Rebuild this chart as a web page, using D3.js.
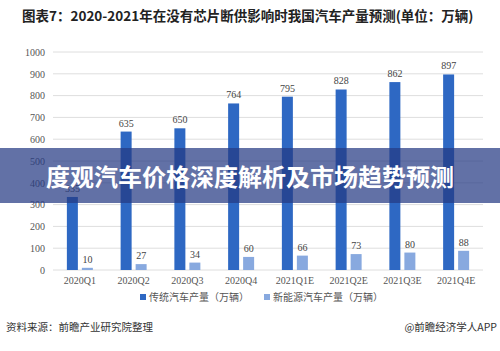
<!DOCTYPE html>
<html>
<head>
<meta charset="utf-8">
<script src="https://cdn.jsdelivr.net/npm/d3@7"></script>
<style>
  body { margin: 0; background: #fff; }
  svg { display: block; }
</style>
</head>
<body>
<div id="chart"></div>
<script>
// data
const quarters = ['2020Q1', '2020Q2', '2020Q3', '2020Q4', '2021Q1E', '2021Q2E', '2021Q3E', '2021Q4E'];
const traditional = [335, 635, 650, 764, 795, 828, 862, 897];
const newEnergy = [10, 27, 34, 60, 66, 73, 80, 88];
const yTicks = [0, 100, 200, 300, 400, 500, 600, 700, 800, 900, 1000];
const seriesNames = ['传统汽车产量（万辆）', '新能源汽车产量（万辆）'];
const seriesColors = ['#2e68c3', '#88a9df'];

const W = 500, H = 351;
const margin = { top: 52, right: 17, bottom: 81, left: 53 };
const plotW = W - margin.left - margin.right;
const plotH = H - margin.top - margin.bottom;

const svg = d3.select('#chart').append('svg')
    .attr('width', W)
    .attr('height', H);

// Title
svg.append('text')
    .attr('x', 22)
    .attr('y', 21)
    .attr('font-family', 'Noto Sans CJK SC')
    .attr('font-weight', 'bold')
    .attr('font-size', '13.5px')
    .attr('fill', '#222')
    .text('图表7：2020-2021年在没有芯片断供影响时我国汽车产量预测(单位：万辆)');

const g = svg.append('g')
    .attr('transform', `translate(${margin.left},${margin.top})`);

const x = d3.scaleBand().domain(quarters).range([0, plotW]).paddingInner(0).paddingOuter(0);
const y = d3.scaleLinear().domain([0, 1000]).range([plotH, 0]);

// Grid lines
g.append('g')
    .selectAll('line')
    .data(yTicks)
    .join('line')
    .attr('x1', 0)
    .attr('x2', plotW)
    .attr('y1', d => y(d))
    .attr('y2', d => y(d))
    .attr('stroke', '#dedede')
    .attr('stroke-width', 1);

// Y axis labels
const yAxis = g.append('g')
    .call(d3.axisLeft(y).tickValues(yTicks).tickFormat(d3.format('d')).tickSize(0).tickPadding(8));
yAxis.select('.domain').remove();
yAxis.selectAll('text')
    .attr('font-family', 'Liberation Serif')
    .attr('font-size', '10px')
    .attr('fill', '#555');

// X axis labels
const xAxis = g.append('g')
    .attr('transform', `translate(0,${plotH})`)
    .call(d3.axisBottom(x).tickSize(0).tickPadding(7));
xAxis.select('.domain').remove();
xAxis.selectAll('text')
    .attr('font-family', 'Liberation Serif')
    .attr('font-size', '10px')
    .attr('fill', '#555');

// Bars
const barW = 11;
const groups = [traditional, newEnergy];
const offsets = [-13, 2];
groups.forEach((vals, s) => {
    g.append('g')
        .selectAll('rect')
        .data(vals)
        .join('rect')
        .attr('x', (d, i) => x(quarters[i]) + x.bandwidth() / 2 + offsets[s])
        .attr('y', d => y(d))
        .attr('width', barW)
        .attr('height', d => plotH - y(d))
        .attr('fill', seriesColors[s]);

    g.append('g')
        .selectAll('text')
        .data(vals)
        .join('text')
        .attr('x', (d, i) => x(quarters[i]) + x.bandwidth() / 2 + offsets[s] + barW / 2)
        .attr('y', d => y(d) - 5)
        .attr('text-anchor', 'middle')
        .attr('font-family', 'Liberation Serif')
        .attr('font-size', '10px')
        .attr('fill', '#444')
        .text(d => d);
});

// Legend
const legend = svg.append('g').attr('transform', 'translate(140,298)');
const legendX = [0, 124];
seriesNames.forEach((name, i) => {
    legend.append('rect')
        .attr('x', legendX[i])
        .attr('y', -4)
        .attr('width', 6)
        .attr('height', 6)
        .attr('fill', seriesColors[i]);
    legend.append('text')
        .attr('x', legendX[i] + 9)
        .attr('y', 3)
        .attr('font-family', 'Noto Sans CJK SC')
        .attr('font-size', '10px')
        .attr('fill', '#555')
        .text(name);
});

// Footer
svg.append('text')
    .attr('x', 6)
    .attr('y', 331)
    .attr('font-family', 'Noto Sans CJK SC')
    .attr('font-size', '10.5px')
    .attr('fill', '#333')
    .text('资料来源：前瞻产业研究院整理');

svg.append('text')
    .attr('x', 497)
    .attr('y', 331)
    .attr('text-anchor', 'end')
    .attr('font-family', 'Noto Sans CJK SC')
    .attr('font-size', '10.5px')
    .attr('fill', '#333')
    .text('@前瞻经济学人APP');

// Banner overlay
svg.append('rect')
    .attr('x', 0)
    .attr('y', 148)
    .attr('width', W)
    .attr('height', 55)
    .attr('fill', 'rgba(38,58,132,0.72)');

svg.append('text')
    .attr('x', W / 2)
    .attr('y', 186)
    .attr('text-anchor', 'middle')
    .attr('font-family', 'Noto Sans CJK SC')
    .attr('font-weight', 'bold')
    .attr('font-size', '24px')
    .attr('fill', '#fff')
    .text('度观汽车价格深度解析及市场趋势预测');
</script>
</body>
</html>
